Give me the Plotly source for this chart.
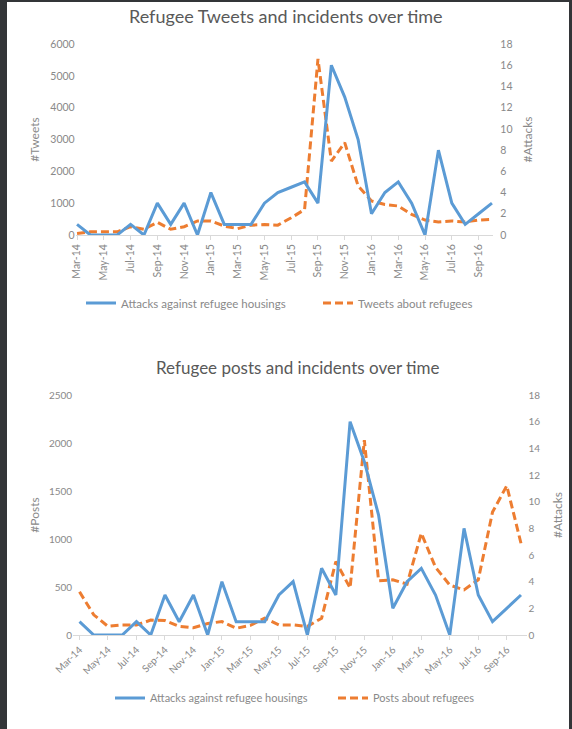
import plotly.graph_objects as go

months = ["Mar-14","Apr-14","May-14","Jun-14","Jul-14","Aug-14","Sep-14","Oct-14","Nov-14","Dec-14",
          "Jan-15","Feb-15","Mar-15","Apr-15","May-15","Jun-15","Jul-15","Aug-15","Sep-15","Oct-15",
          "Nov-15","Dec-15","Jan-16","Feb-16","Mar-16","Apr-16","May-16","Jun-16","Jul-16","Aug-16",
          "Sep-16","Oct-16"]
tick_labels = months[0:31:2]

attacks_top = [1,0,0,0,1,0,3,1,3,0,4,1,1,1,3,4,4.5,5,3,16,13,9,2,4,5,3,0,8,3,1,2,3]
tweets = [50,100,100,100,260,180,400,180,260,440,440,280,200,310,330,310,540,800,5530,2320,2900,
          1540,1070,960,910,650,470,410,440,410,470,490]

attacks_bottom = [1,0,0,0,1,0,3,1,3,0,4,1,1,1,3,4,0,5,3,16,13,9,2,4,5,3,0,8,3,1,2,3]
posts = [450,210,90,105,105,155,150,90,75,120,140,70,100,175,105,105,90,175,765,490,2030,565,575,
         530,1060,705,520,470,575,1280,1555,955]

W, H = 572, 729
BLUE = "#5b9bd5"
ORANGE = "#ed7d31"
GRAY = "#898989"
TITLE = "#595959"
FONT = "Lato"
DASH = "8px,4px"

def px(x):
    return x / W

def py(y):
    return 1 - y / H

idx = list(range(len(months)))
tickvals = idx[0:31:2]

fig = go.Figure()
fig.add_trace(go.Scatter(x=idx, y=attacks_top, name="Attacks against refugee housings", mode="lines",
                         line=dict(color=BLUE, width=3), xaxis="x", yaxis="y2", legend="legend"))
fig.add_trace(go.Scatter(x=idx, y=tweets, name="Tweets about refugees", mode="lines",
                         line=dict(color=ORANGE, width=3, dash=DASH), xaxis="x", yaxis="y",
                         legend="legend2"))
fig.add_trace(go.Scatter(x=idx, y=attacks_bottom, name="Attacks against refugee housings", mode="lines",
                         line=dict(color=BLUE, width=3), xaxis="x2", yaxis="y4", legend="legend3"))
fig.add_trace(go.Scatter(x=idx, y=posts, name="Posts about refugees", mode="lines",
                         line=dict(color=ORANGE, width=3, dash=DASH), xaxis="x2", yaxis="y3",
                         legend="legend4"))

xcommon = dict(showline=True, linecolor="#d9d9d9", linewidth=1, ticks="outside", ticklen=4,
               tickcolor="#d9d9d9", showgrid=False, zeroline=False, automargin=False,
               tickvals=tickvals, ticktext=tick_labels, tickfont=dict(color=GRAY, size=10.5))
ycommon = dict(showline=False, showgrid=False, zeroline=False, automargin=False, ticks="",
               tickfont=dict(color=GRAY, size=10.5), title_font=dict(color=GRAY, size=12))

def leg(x, y, size):
    return dict(orientation="h", x=px(x), y=py(y), xanchor="left", yanchor="middle",
                font=dict(size=size, color=GRAY), bgcolor="rgba(0,0,0,0)", itemwidth=30)

fig.update_layout(
    width=W, height=H,
    margin=dict(l=0, r=0, t=0, b=0),
    paper_bgcolor="#333538",
    plot_bgcolor="rgba(0,0,0,0)",
    font=dict(family=FONT, color=GRAY),
    showlegend=True,
    xaxis=dict(xcommon, domain=[px(75.7), px(493.3)], anchor="y", range=[-0.1, 31.1], tickangle=-90),
    yaxis=dict(ycommon, domain=[py(235), py(44)], anchor="x", range=[0, 6000], dtick=1000,
               title=dict(text="#Tweets", standoff=8)),
    yaxis2=dict(ycommon, overlaying="y", side="right", anchor="x", range=[0, 18], dtick=2,
                ticklabelstandoff=6,
                title=dict(text="#Attacks", standoff=12)),
    xaxis2=dict(xcommon, domain=[px(73.1), px(527.4)], anchor="y3", range=[-0.45, 31.45], tickangle=-45,
                tickfont=dict(color=GRAY, size=10)),
    yaxis3=dict(ycommon, domain=[py(635), py(395)], anchor="x2", range=[0, 2500], dtick=500,
                tickfont=dict(color=GRAY, size=10),
                title=dict(text="#Posts", standoff=6)),
    yaxis4=dict(ycommon, overlaying="y3", side="right", anchor="x2", range=[0, 18], dtick=2,
                tickfont=dict(color=GRAY, size=10),
                title=dict(text="#Attacks", standoff=14)),
    legend=leg(81, 303, 11.5),
    legend2=leg(318, 303, 11.5),
    legend3=leg(110, 698, 11),
    legend4=leg(333, 698, 11),
    shapes=[dict(type="rect", xref="paper", yref="paper", x0=px(7), x1=px(569), y0=0, y1=py(2),
                 fillcolor="white", line=dict(width=0), layer="below")],
    annotations=[
        dict(text="Refugee Tweets and incidents over time", x=px(286), y=py(16), xref="paper",
             yref="paper", showarrow=False, font=dict(size=18, color=TITLE),
             xanchor="center", yanchor="middle"),
        dict(text="Refugee posts and incidents over time", x=px(298), y=py(368), xref="paper",
             yref="paper", showarrow=False, font=dict(size=17, color=TITLE),
             xanchor="center", yanchor="middle"),
    ],
)

fig.write_html("out.html", config={"displayModeBar": False},
               post_script="document.body.style.margin='0';document.body.style.overflow='hidden';")
